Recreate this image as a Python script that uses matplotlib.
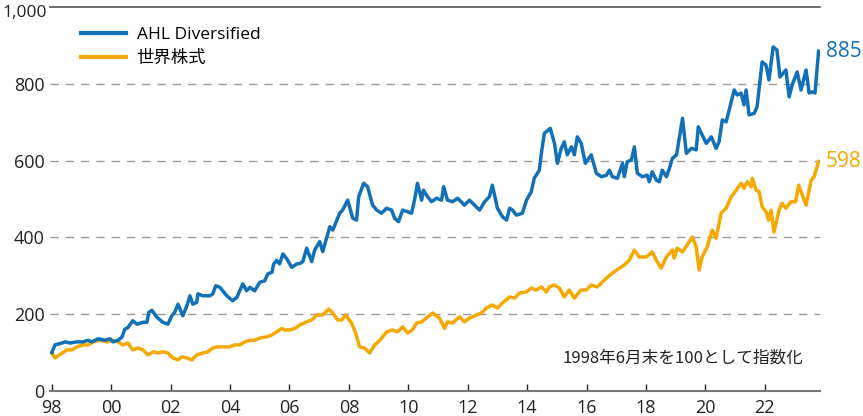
import matplotlib
matplotlib.use("Agg")
import matplotlib.pyplot as plt
import matplotlib.transforms as mtransforms

# ---- data (x = years since the "98" tick, i.e. end of June 1998) ----
ahl_t = [0.00, 0.11, 0.35, 0.45, 0.62, 0.85, 1.05, 1.22, 1.35, 1.56, 1.79, 1.96, 2.06, 2.23, 2.36,
         2.46, 2.56, 2.73, 2.87, 3.07, 3.20, 3.27, 3.37, 3.54, 3.74, 3.91, 4.04, 4.14, 4.25, 4.41,
         4.55, 4.65, 4.75, 4.88, 4.92, 5.09, 5.32, 5.42, 5.52, 5.66, 5.89, 6.09, 6.23, 6.43, 6.56,
         6.67, 6.83, 7.00, 7.17, 7.27, 7.41, 7.47, 7.57, 7.67, 7.78, 7.91, 8.08, 8.25, 8.35, 8.45,
         8.58, 8.75, 8.85, 9.02, 9.12, 9.36, 9.46, 9.69, 9.79, 9.96, 10.13, 10.26, 10.33, 10.50,
         10.63, 10.80, 10.94, 11.10, 11.27, 11.44, 11.54, 11.67, 11.81, 11.98, 12.11, 12.21, 12.31,
         12.45, 12.51, 12.65, 12.78, 12.95, 13.12, 13.19, 13.32, 13.49, 13.66, 13.89, 14.06, 14.23,
         14.40, 14.57, 14.73, 14.83, 15.00, 15.17, 15.31, 15.41, 15.51, 15.64, 15.84, 15.98, 16.14,
         16.24, 16.41, 16.48, 16.58, 16.78, 16.92, 17.02, 17.15, 17.25, 17.35, 17.49, 17.59, 17.69,
         17.82, 17.96, 18.16, 18.33, 18.50, 18.67, 18.77, 18.87, 19.04, 19.21, 19.27, 19.37, 19.51,
         19.61, 19.71, 19.88, 20.04, 20.11, 20.21, 20.35, 20.45, 20.55, 20.69, 20.79, 20.89, 21.03,
         21.23, 21.36, 21.53, 21.69, 21.76, 22.03, 22.20, 22.36, 22.46, 22.57, 22.70, 22.80, 22.97,
         23.07, 23.20, 23.30, 23.37, 23.47, 23.64, 23.74, 23.91, 24.04, 24.14, 24.28, 24.41, 24.51,
         24.71, 24.82, 24.92, 25.09, 25.22, 25.39, 25.49, 25.59, 25.69, 25.81]
ahl_v = [100, 120, 125, 128, 125, 128, 128, 132, 128, 136, 132, 136, 128, 132, 140,
         161, 165, 183, 174, 179, 179, 205, 210, 192, 179, 174, 196, 205, 226, 196,
         222, 248, 226, 231, 253, 248, 248, 253, 274, 270, 248, 235, 244, 279, 261,
         270, 261, 283, 287, 305, 309, 331, 340, 331, 357, 344, 322, 331, 332, 337,
         372, 337, 367, 389, 363, 428, 419, 463, 471, 497, 450, 445, 506, 541,
         532, 484, 471, 463, 476, 471, 450, 441, 471, 467, 463, 497, 541,
         497, 523, 506, 493, 502, 497, 532, 497, 493, 502, 484, 497, 484,
         471, 493, 506, 536, 476, 454, 445, 476, 471, 458, 463, 497, 519,
         554, 575, 619, 671, 684, 645, 593, 632, 649, 615, 636, 615, 662,
         645, 593, 615, 567, 558, 562, 575, 558, 554, 593, 558, 597, 602,
         636, 567, 558, 562, 545, 571, 549, 545, 575, 558, 580, 606, 615,
         710, 619, 632, 628, 688, 645, 662, 632, 649, 706, 701, 732, 784,
         771, 776, 745, 784, 719, 723, 740, 857, 849, 810, 896, 888, 818,
         836, 766, 797, 831, 784, 836, 776, 779, 776, 885]

eq_t = [0.00, 0.11, 0.35, 0.51, 0.68, 0.85, 1.05, 1.22, 1.39, 1.62, 1.86, 2.06, 2.23, 2.40, 2.56,
        2.73, 2.90, 3.07, 3.24, 3.41, 3.57, 3.74, 3.91, 4.08, 4.25, 4.38, 4.55, 4.72, 4.88, 5.09,
        5.25, 5.42, 5.59, 5.76, 5.99, 6.16, 6.33, 6.50, 6.67, 6.83, 7.00, 7.24, 7.41, 7.57, 7.74,
        7.84, 8.01, 8.18, 8.35, 8.58, 8.75, 8.92, 9.12, 9.32, 9.46, 9.62, 9.76, 9.89, 10.09, 10.23,
        10.36, 10.53, 10.70, 10.87, 11.04, 11.27, 11.47, 11.64, 11.81, 11.98, 12.14, 12.28, 12.45,
        12.61, 12.82, 13.05, 13.22, 13.32, 13.49, 13.72, 13.89, 14.06, 14.30, 14.46, 14.63, 14.83,
        15.00, 15.17, 15.41, 15.58, 15.74, 15.98, 16.14, 16.31, 16.48, 16.65, 16.75, 16.92, 17.09,
        17.25, 17.42, 17.59, 17.76, 17.82, 17.99, 18.16, 18.36, 18.67, 18.87, 19.11, 19.27, 19.44,
        19.61, 19.77, 20.01, 20.21, 20.38, 20.51, 20.69, 20.89, 20.95, 21.05, 21.23, 21.46, 21.56,
        21.69, 21.79, 21.89, 22.06, 22.23, 22.36, 22.53, 22.70, 22.87, 23.04, 23.20, 23.30, 23.41,
        23.54, 23.58, 23.71, 23.81, 23.91, 24.04, 24.13, 24.21, 24.31, 24.48, 24.58, 24.71, 24.88,
        25.04, 25.14, 25.39, 25.56, 25.66, 25.81]
eq_v = [100, 86, 99, 107, 107, 115, 120, 120, 128, 132, 128, 132, 128, 120, 125,
        107, 112, 107, 94, 102, 99, 102, 99, 86, 81, 89, 86, 81, 94, 99,
        102, 112, 115, 115, 115, 120, 120, 128, 132, 132, 138, 141, 146, 154, 163,
        159, 159, 163, 172, 180, 185, 198, 198, 213, 203, 185, 185, 198, 177, 151,
        115, 112, 99, 120, 132, 154, 159, 154, 167, 151, 159, 177, 180,
        190, 203, 190, 163, 180, 177, 193, 180, 190, 198, 203, 216, 224,
        216, 229, 245, 242, 255, 258, 268, 263, 271, 258, 271, 276, 268,
        245, 263, 242, 258, 263, 263, 276, 271, 294, 307, 320, 328, 341,
        367, 349, 349, 362, 336, 320, 349, 367, 346, 372, 362, 389, 401,
        375, 315, 349, 375, 419, 398, 463, 476, 506, 523, 541, 528, 545,
        532, 554, 523, 519, 480, 467, 445, 471, 414, 471, 489, 476, 493,
        493, 536, 484, 549, 558, 598]

series_names = ["AHL Diversified", "世界株式"]
tick_pos = [0, 2, 4, 6, 8, 10, 12, 14, 16, 18, 20, 22, 24]
tick_labels = ["98", "00", "02", "04", "06", "08", "10", "12", "14", "16", "18", "20", "22"]
ytick_vals = [0, 200, 400, 600, 800, 1000]
ytick_labels = ["0", "200", "400", "600", "800", "1,000"]
note = "1998年6月末を100として指数化"

BLUE = "#1170B8"
ORANGE = "#F5A800"

plt.rcParams["font.family"] = ["Open Sans", "Noto Sans CJK JP", "DejaVu Sans"]

fig = plt.figure(figsize=(8.63, 4.16), dpi=100)
ax = fig.add_axes([0.0579, 0.0601, 0.892, 0.923])

for y in [200, 400, 600, 800]:
    ax.axhline(y, color="#9a9a9a", lw=1.0, ls=(0, (6, 5)), zorder=1)

ax.plot(ahl_t, ahl_v, color=BLUE, lw=2.5, label=series_names[0], zorder=3,
        solid_joinstyle="round")
ax.plot(eq_t, eq_v, color=ORANGE, lw=2.5, label=series_names[1], zorder=2,
        solid_joinstyle="round")

ax.set_xlim(-0.06, 25.85)
ax.set_ylim(0, 1000)

for s in ["left", "right"]:
    ax.spines[s].set_visible(False)
ax.spines["top"].set_color("#555555")
ax.spines["top"].set_linewidth(1.2)
ax.spines["bottom"].set_color("#777777")
ax.spines["bottom"].set_linewidth(1.5)

ax.set_xticks(tick_pos)
ax.set_xticklabels(tick_labels, fontsize=13, color="#222222")
ax.tick_params(axis="x", direction="in", length=5, width=1, color="#222222", pad=6)
ax.set_yticks(ytick_vals)
ax.set_yticklabels(ytick_labels, fontsize=13, color="#222222")
ax.tick_params(axis="y", length=0, pad=4)

# keep the top label inside the canvas
top_lbl = ax.get_yticklabels()[-1]
top_lbl.set_fontsize(12.5)
top_lbl.set_transform(top_lbl.get_transform() +
                      mtransforms.ScaledTranslation(1.5 / 72, -2.5 / 72, fig.dpi_scale_trans))

leg = ax.legend(loc="upper left", bbox_to_anchor=(0.02, 0.99), frameon=False,
                handlelength=2.6, handletextpad=0.6, labelspacing=0.45,
                prop={"family": ["Open Sans", "Noto Sans CJK JP"], "size": 12.5})
for h in leg.get_lines():
    h.set_linewidth(3)

ax.annotate(f"{ahl_v[-1]}", xy=(ahl_t[-1], ahl_v[-1]), xytext=(5, 0),
            textcoords="offset points", color=BLUE, fontsize=15, va="center", ha="left",
            annotation_clip=False)
ax.annotate(f"{eq_v[-1]}", xy=(eq_t[-1], eq_v[-1]), xytext=(5, 0),
            textcoords="offset points", color=ORANGE, fontsize=15, va="center", ha="left",
            annotation_clip=False)

ax.text(0.978, 0.085, note, transform=ax.transAxes, ha="right", va="center",
        fontsize=12, color="#222222", family=["Noto Sans CJK JP", "DejaVu Sans"])

fig.savefig("out.png", dpi=100)
